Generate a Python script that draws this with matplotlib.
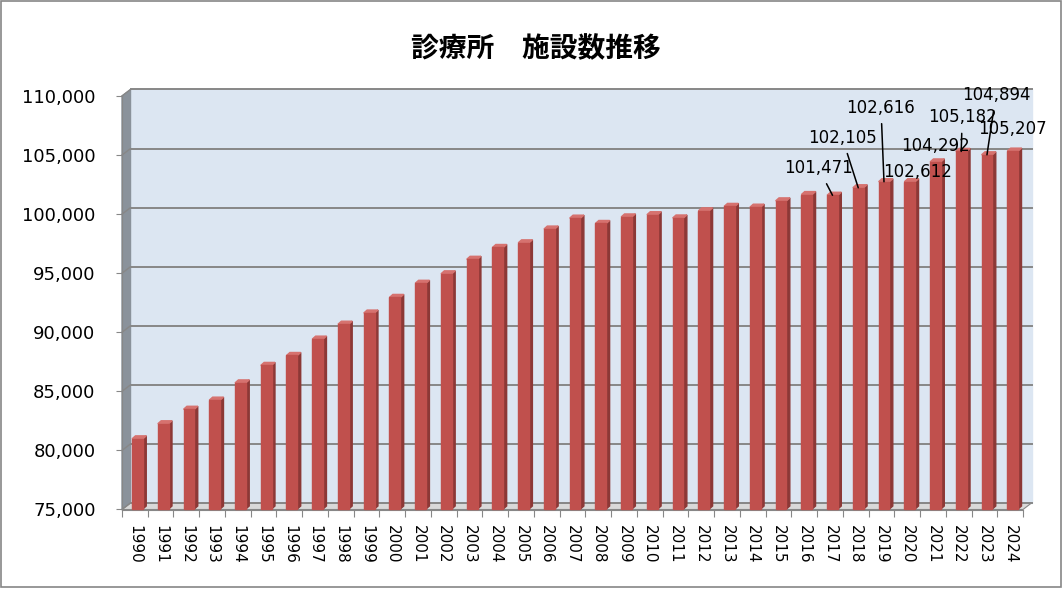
import matplotlib.pyplot as plt
from matplotlib.patches import Rectangle

# ----------------------------
# Data
# ----------------------------
years = ["1990", "1991", "1992", "1993", "1994", "1995", "1996", "1997", "1998", "1999",
         "2000", "2001", "2002", "2003", "2004", "2005", "2006", "2007", "2008", "2009",
         "2010", "2011", "2012", "2013", "2014", "2015", "2016", "2017", "2018", "2019",
         "2020", "2021", "2022", "2023", "2024"]
counts = [80852, 82128, 83356, 84128, 85588, 87069, 87909, 89292, 90556, 91500,
          92824, 94019, 94819, 96050, 97051, 97442, 98609, 99532, 99083, 99635,
          99824, 99547, 100152, 100528, 100461, 100995, 101529, 101471, 102105, 102616,
          102612, 104292, 105182, 104894, 105207]
y_ticks = [75000, 80000, 85000, 90000, 95000, 100000, 105000, 110000]
title = "診療所　施設数推移"

# labelled years: (index, label offset in px, leader line?)
labels = [(27, (-14, 27), True), (28, (-16, 50), True), (29, (-3, 74), True),
          (30, (8, 10), False), (31, (0, 16), False), (32, (1, 34), True),
          (33, (9, 60), True), (34, (0, 22), False)]

# ----------------------------
# Layout (pixels)
# ----------------------------
W, H = 1064, 590
L, R, B, T = 122, 1023, 509.5, 96
fig = plt.figure(figsize=(W / 100, H / 100), dpi=100)
ax = fig.add_axes([L / W, 1 - B / H, (R - L) / W, (B - T) / H])
ax.set_facecolor("none")

n = len(years)
xmin, xmax = -0.5, n - 0.5
ymin, ymax = y_ticks[0], y_ticks[-1]
ax.set_xlim(xmin, xmax)
ax.set_ylim(ymin, ymax)

pxx = (R - L) / n
pxy = (B - T) / (ymax - ymin)
dx, dy = 8.5 / pxx, 6.5 / pxy  # depth offset of the back wall

grid_c = "#878787"

# walls and floor
ax.fill([xmin + dx, xmax + dx, xmax + dx, xmin + dx],
        [ymin + dy, ymin + dy, ymax + dy, ymax + dy],
        color="#DCE6F2", clip_on=False, zorder=0)
ax.fill([xmin, xmin, xmin + dx, xmin + dx],
        [ymin, ymax, ymax + dy, ymin + dy],
        color="#8A929B", clip_on=False, zorder=0)
ax.fill([xmin, xmax, xmax + dx, xmin + dx],
        [ymin, ymin, ymin + dy, ymin + dy],
        color="#D9D9D9", ec=grid_c, lw=0.8, clip_on=False, zorder=0)

for t in y_ticks:
    ax.plot([xmin + dx, xmax + dx], [t + dy, t + dy], color=grid_c, lw=1.4,
            clip_on=False, zorder=1)
    ax.plot([xmin, xmin + dx], [t, t + dy], color=grid_c, lw=1.0,
            clip_on=False, zorder=1)

# 3D-looking bars
w = 0.42
sw, sh = 3.4 / pxx, 3.0 / pxy
base = ymin + 0.5 / pxy
tops = []
for i, v in enumerate(counts):
    x0 = i - 0.11
    top = v + 1.5 / pxy
    tops.append(top)
    ax.fill([x0 + w, x0 + w + sw, x0 + w + sw, x0 + w],
            [base, base + sh, top + sh, top], color="#8C3836", clip_on=False, zorder=2)
    ax.fill([x0, x0 + sw, x0 + w + sw, x0 + w],
            [top, top + sh, top + sh, top], color="#D6726F", clip_on=False, zorder=2)
    ax.fill([x0, x0 + w, x0 + w, x0],
            [base, base, top, top], color="#C0504D", clip_on=False, zorder=3)

# data labels
for i, off, leader in labels:
    arrow = dict(arrowstyle="-", color="black", lw=1.1, shrinkA=3, shrinkB=0) if leader else None
    ax.annotate(f"{counts[i]:,}", xy=(i + 0.1, tops[i]), xytext=off,
                textcoords="offset pixels", ha="center", va="center",
                fontsize=12, color="black", arrowprops=arrow, zorder=5,
                annotation_clip=False)

# axes
for s in ["top", "right"]:
    ax.spines[s].set_visible(False)
ax.spines["left"].set_color(grid_c)
ax.spines["bottom"].set_color(grid_c)
ax.set_yticks(y_ticks)
ax.set_yticklabels([f"{t:,}" for t in y_ticks])
ax.tick_params(axis="y", length=4, color=grid_c, labelsize=13, pad=15)
ax.set_xticks([i - 0.5 for i in range(n + 1)])
ax.set_xticklabels([""] * (n + 1))
ax.set_xticks(range(n), minor=True)
ax.set_xticklabels(years, minor=True, rotation=-90)
ax.tick_params(axis="x", which="major", length=5, color=grid_c)
ax.tick_params(axis="x", which="minor", length=0, labelsize=11, pad=11)

fig.text(0.504, 0.917, title, ha="center", va="center", fontsize=20,
         fontweight="bold", family=["Noto Sans CJK JP", "DejaVu Sans"])

fig.patches.append(Rectangle((0.001, 0.005), 0.996, 0.993, transform=fig.transFigure,
                             fill=False, ec="#868686", lw=1.2))

fig.savefig("out.png", dpi=100)
